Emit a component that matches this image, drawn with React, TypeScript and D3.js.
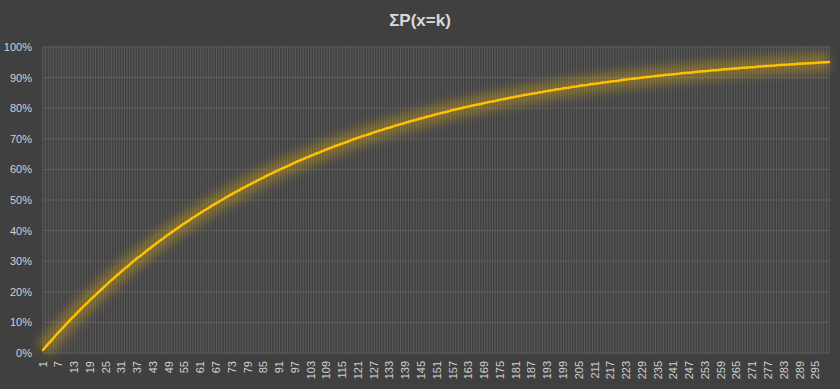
import React from "react";
import * as d3 from "d3";

const categories: number[] = Array.from({ length: 300 }, (_, i) => i + 1);

const cumulative: number[] = [
  0.010, 0.020, 0.030, 0.039, 0.049, 0.059, 0.068, 0.077, 0.086, 0.096,
  0.105, 0.114, 0.122, 0.131, 0.140, 0.149, 0.157, 0.165, 0.174, 0.182,
  0.190, 0.198, 0.206, 0.214, 0.222, 0.230, 0.238, 0.245, 0.253, 0.260,
  0.268, 0.275, 0.282, 0.289, 0.297, 0.304, 0.311, 0.317, 0.324, 0.331,
  0.338, 0.344, 0.351, 0.357, 0.364, 0.370, 0.376, 0.383, 0.389, 0.395,
  0.401, 0.407, 0.413, 0.419, 0.425, 0.430, 0.436, 0.442, 0.447, 0.453,
  0.458, 0.464, 0.469, 0.474, 0.480, 0.485, 0.490, 0.495, 0.500, 0.505,
  0.510, 0.515, 0.520, 0.525, 0.529, 0.534, 0.539, 0.543, 0.548, 0.552,
  0.557, 0.561, 0.566, 0.570, 0.574, 0.579, 0.583, 0.587, 0.591, 0.595,
  0.599, 0.603, 0.607, 0.611, 0.615, 0.619, 0.623, 0.627, 0.630, 0.634,
  0.638, 0.641, 0.645, 0.648, 0.652, 0.655, 0.659, 0.662, 0.666, 0.669,
  0.672, 0.676, 0.679, 0.682, 0.685, 0.688, 0.691, 0.695, 0.698, 0.701,
  0.704, 0.707, 0.710, 0.712, 0.715, 0.718, 0.721, 0.724, 0.727, 0.729,
  0.732, 0.735, 0.737, 0.740, 0.743, 0.745, 0.748, 0.750, 0.753, 0.755,
  0.758, 0.760, 0.762, 0.765, 0.767, 0.769, 0.772, 0.774, 0.776, 0.779,
  0.781, 0.783, 0.785, 0.787, 0.789, 0.792, 0.794, 0.796, 0.798, 0.800,
  0.802, 0.804, 0.806, 0.808, 0.810, 0.811, 0.813, 0.815, 0.817, 0.819,
  0.821, 0.822, 0.824, 0.826, 0.828, 0.829, 0.831, 0.833, 0.835, 0.836,
  0.838, 0.839, 0.841, 0.843, 0.844, 0.846, 0.847, 0.849, 0.850, 0.852,
  0.853, 0.855, 0.856, 0.858, 0.859, 0.861, 0.862, 0.863, 0.865, 0.866,
  0.867, 0.869, 0.870, 0.871, 0.873, 0.874, 0.875, 0.876, 0.878, 0.879,
  0.880, 0.881, 0.882, 0.884, 0.885, 0.886, 0.887, 0.888, 0.889, 0.890,
  0.892, 0.893, 0.894, 0.895, 0.896, 0.897, 0.898, 0.899, 0.900, 0.901,
  0.902, 0.903, 0.904, 0.905, 0.906, 0.907, 0.908, 0.909, 0.909, 0.910,
  0.911, 0.912, 0.913, 0.914, 0.915, 0.916, 0.916, 0.917, 0.918, 0.919,
  0.920, 0.921, 0.921, 0.922, 0.923, 0.924, 0.924, 0.925, 0.926, 0.927,
  0.927, 0.928, 0.929, 0.930, 0.930, 0.931, 0.932, 0.932, 0.933, 0.934,
  0.934, 0.935, 0.936, 0.936, 0.937, 0.938, 0.938, 0.939, 0.939, 0.940,
  0.941, 0.941, 0.942, 0.942, 0.943, 0.944, 0.944, 0.945, 0.945, 0.946,
  0.946, 0.947, 0.947, 0.948, 0.948, 0.949, 0.949, 0.950, 0.950, 0.951,
];

const yTicks: number[] = [0, 0.1, 0.2, 0.3, 0.4, 0.5, 0.6, 0.7, 0.8, 0.9, 1.0];
const xLabelStep = 6;
const title = "ΣP(x=k)";

const W = 840;
const H = 389;
const M = { left: 43, right: 11, top: 47, bottom: 36 };

export default function App() {
  const x = d3
    .scalePoint<number>()
    .domain(categories)
    .range([M.left, W - M.right]);
  const y = d3
    .scaleLinear()
    .domain([0, 1])
    .range([H - M.bottom, M.top]);

  const line = d3
    .line<number>()
    .x((_, i) => x(categories[i]) as number)
    .y((d) => y(d));
  const path = line(cumulative) || "";

  const font = "'Liberation Sans', Arial, sans-serif";
  const labelCats = categories.filter((c) => (c - 1) % xLabelStep === 0);

  return (
    <svg
      width={W}
      height={H}
      style={{ position: "absolute", left: 0, top: 0, display: "block" }}
    >
      <defs>
        <filter id="glow" x="-10%" y="-40%" width="120%" height="180%">
          <feGaussianBlur stdDeviation="5" />
        </filter>
      </defs>
      <rect x={0} y={0} width={W} height={H} fill="#404040" />
      <text
        x={420}
        y={26}
        textAnchor="middle"
        fontFamily={font}
        fontWeight="bold"
        fontSize={17}
        fill="#d9d9d9"
      >
        {title}
      </text>
      <g>
        {categories.map((c) => (
          <line
            key={"v" + c}
            x1={x(c)}
            x2={x(c)}
            y1={y(1)}
            y2={y(0)}
            stroke="#5c5c5c"
            strokeWidth={1}
          />
        ))}
        {yTicks.map((t) => (
          <line
            key={"h" + t}
            x1={M.left}
            x2={W - M.right}
            y1={y(t)}
            y2={y(t)}
            stroke="#5e5e5e"
            strokeWidth={1}
          />
        ))}
      </g>
      <g>
        {yTicks.map((t) => (
          <text
            key={"yl" + t}
            x={32}
            y={y(t) + 4}
            textAnchor="end"
            fontFamily={font}
            fontSize={11}
            fill="#d0d0d0"
          >
            {d3.format(".0%")(t)}
          </text>
        ))}
      </g>
      <g>
        {labelCats.map((c) => (
          <text
            key={"xl" + c}
            transform={`translate(${(x(c) as number) + 3.5},${H - M.bottom + 8}) rotate(-90)`}
            textAnchor="end"
            fontFamily={font}
            fontSize={11}
            fill="#d0d0d0"
          >
            {c}
          </text>
        ))}
      </g>
      <path
        d={path}
        fill="none"
        stroke="#ffc000"
        strokeOpacity={0.3}
        strokeWidth={18}
        filter="url(#glow)"
      />
      <path
        d={path}
        fill="none"
        stroke="#ffc000"
        strokeWidth={2.5}
        strokeLinejoin="round"
        strokeLinecap="round"
      />
    </svg>
  );
}
